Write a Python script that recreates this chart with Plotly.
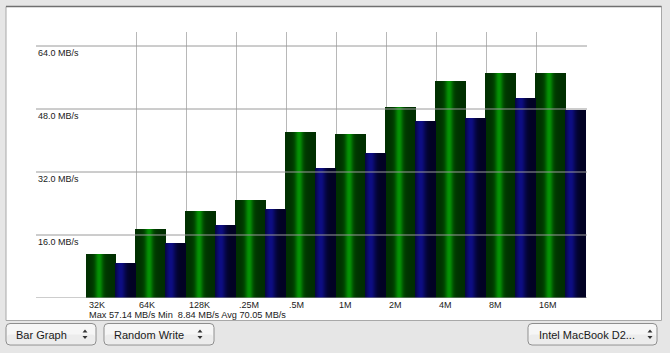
import plotly.graph_objects as go
import numpy as np

# ---- data ----
categories = ["32K", "64K", "128K", ".25M", ".5M", "1M", "2M", "4M", "8M", "16M"]
green_vals = [11.17, 17.52, 22.10, 24.89, 42.16, 41.65, 48.50, 55.10, 57.14, 57.10]
blue_vals = [8.84, 13.97, 18.54, 22.60, 33.00, 36.80, 44.95, 45.70, 50.80, 47.80]
y_ticks = [16, 32, 48, 64]
y_tick_labels = ["16.0 MB/s", "32.0 MB/s", "48.0 MB/s", "64.0 MB/s"]
stats_text = "Max 57.14 MB/s Min&nbsp; 8.84 MB/s Avg 70.05 MB/s"
buttons = ["Bar Graph", "Random Write", "Intel MacBook D2..."]

W, H = 670, 353
FONT = "Liberation Sans, Arial, sans-serif"


def px(x):
    return x / W


def py(y):
    return 1 - y / H


# y axis: 0 at pixel 298, 16 MB/s per 63 px, top at pixel 32
y_top = (298 - 32) * 16 / 63.0

fig = go.Figure()

n = len(categories)
xs = np.arange(n)


def add_gradient_bars(vals, offset, width_units, npx, color_fn):
    # base bar with edge colour
    fig.add_trace(go.Bar(
        x=xs + offset + width_units / 2, y=vals, width=width_units,
        marker=dict(color=color_fn(0.0), line=dict(width=0)),
        hoverinfo="skip", showlegend=False))
    step = width_units / npx
    for k in range(npx):
        t = (k + 0.5) / npx
        fig.add_trace(go.Bar(
            x=xs + offset + (k + 0.5) * step, y=vals, width=step * 1.6,
            marker=dict(color=color_fn(t), line=dict(width=0)),
            hoverinfo="skip", showlegend=False))


def green_fn(t):
    g = 46 + 88 * np.exp(-((t - 0.47) / 0.13) ** 2) + 12 * np.exp(-((t - 0.47) / 0.35) ** 2)
    r = 5 * np.exp(-((t - 0.47) / 0.12) ** 2)
    return "rgb(%d,%d,%d)" % (r, g, r)


def blue_fn(t):
    b = 36 + 96 * np.exp(-((t - 0.28) / 0.26) ** 2)
    rg = 0.12 * (b - 36) + 2
    return "rgb(%d,%d,%d)" % (rg, rg, b)


add_gradient_bars(green_vals, 0.0, 0.6, 30, green_fn)
add_gradient_bars(blue_vals, 0.6, 0.4, 20, blue_fn)

shapes = []
# white panel
shapes.append(dict(type="rect", xref="paper", yref="paper", x0=px(6), x1=px(661.5),
                   y0=py(320.5), y1=py(6.5), fillcolor="white",
                   line=dict(color="#a8a8a8", width=1), layer="below"))
shapes.append(dict(type="line", xref="paper", yref="paper", x0=px(6), x1=px(661.5),
                   y0=py(6.5), y1=py(6.5), line=dict(color="#707070", width=1.5), layer="below"))

# horizontal grid lines (extend left to the labels)
for v in [0] + y_ticks:
    shapes.append(dict(type="line", xref="paper", yref="y", x0=px(36), x1=px(587),
                       y0=v, y1=v, line=dict(color="#9a9a9a", width=1), layer="above"))


def rounded_rect(x0, y0, x1, y1, r):
    rx, ry = r / W, r / H
    X0, X1 = px(x0), px(x1)
    Y0, Y1 = py(y1), py(y0)  # bottom, top in paper
    return (f"M {X0+rx},{Y1} L {X1-rx},{Y1} Q {X1},{Y1} {X1},{Y1-ry} "
            f"L {X1},{Y0+ry} Q {X1},{Y0} {X1-rx},{Y0} L {X0+rx},{Y0} "
            f"Q {X0},{Y0} {X0},{Y0+ry} L {X0},{Y1-ry} Q {X0},{Y1} {X0+rx},{Y1} Z")


button_boxes = [(6, 96, 15, 85), (104, 214, 113, 200), (528, 657, 538, 650)]
annotations = []
for label, (bx0, bx1, tx, ax) in zip(buttons, button_boxes):
    shapes.append(dict(type="path", xref="paper", yref="paper",
                       path=rounded_rect(bx0, 323.5, bx1, 345, 4),
                       fillcolor="#f6f6f6", line=dict(color="#8e8e8e", width=1), layer="above"))
    shapes.append(dict(type="path", xref="paper", yref="paper",
                       path=rounded_rect(bx0 + 1, 334.5, bx1 - 1, 344, 3),
                       fillcolor="#ececec", line=dict(width=0), layer="above"))
    # up / down arrows
    shapes.append(dict(type="path", xref="paper", yref="paper",
                       path=f"M {px(ax-2.5)},{py(332.5)} L {px(ax+2.5)},{py(332.5)} L {px(ax)},{py(329.5)} Z",
                       fillcolor="#333333", line=dict(width=0), layer="above"))
    shapes.append(dict(type="path", xref="paper", yref="paper",
                       path=f"M {px(ax-2.5)},{py(336)} L {px(ax+2.5)},{py(336)} L {px(ax)},{py(339)} Z",
                       fillcolor="#333333", line=dict(width=0), layer="above"))
    annotations.append(dict(text=label, xref="paper", yref="paper", x=px(tx), y=py(334.5),
                            xanchor="left", yanchor="middle", showarrow=False,
                            font=dict(family=FONT, size=11, color="#1a1a1a"),
                            borderpad=0))

# y tick labels
for v, lab in zip(y_ticks, y_tick_labels):
    annotations.append(dict(text=lab, xref="paper", yref="y", x=px(37), y=v,
                            xanchor="left", yanchor="top", yshift=-1, showarrow=False,
                            font=dict(family=FONT, size=9, color="#1a1a1a"), borderpad=0))

# x category labels
for i, c in enumerate(categories):
    annotations.append(dict(text=c, xref="x", yref="paper", x=i, y=py(304.5),
                            xanchor="left", yanchor="middle", xshift=1.5, showarrow=False,
                            font=dict(family=FONT, size=9, color="#1a1a1a"), borderpad=0))

annotations.append(dict(text=stats_text, xref="paper", yref="paper", x=px(87.5), y=py(314.5),
                        xanchor="left", yanchor="middle", showarrow=False,
                        font=dict(family=FONT, size=9.2, color="#1a1a1a"), borderpad=0))

fig.update_layout(
    width=W, height=H, autosize=False,
    margin=dict(l=0, r=0, t=0, b=0, pad=0),
    paper_bgcolor="#e6e6e6", plot_bgcolor="rgba(0,0,0,0)",
    barmode="overlay", bargap=0,
    showlegend=False,
    xaxis=dict(domain=[px(86), px(586)], range=[0, n], tickvals=list(range(n + 1)),
               showticklabels=False, showgrid=True, gridcolor="#b8b8b8", gridwidth=1,
               zeroline=False, showline=False, ticks="", fixedrange=True),
    yaxis=dict(domain=[py(298), py(32)], range=[0, y_top], showgrid=False,
               showticklabels=False, zeroline=False, showline=False, ticks="", fixedrange=True),
    shapes=shapes, annotations=annotations,
)

fig.write_html("out.html")
